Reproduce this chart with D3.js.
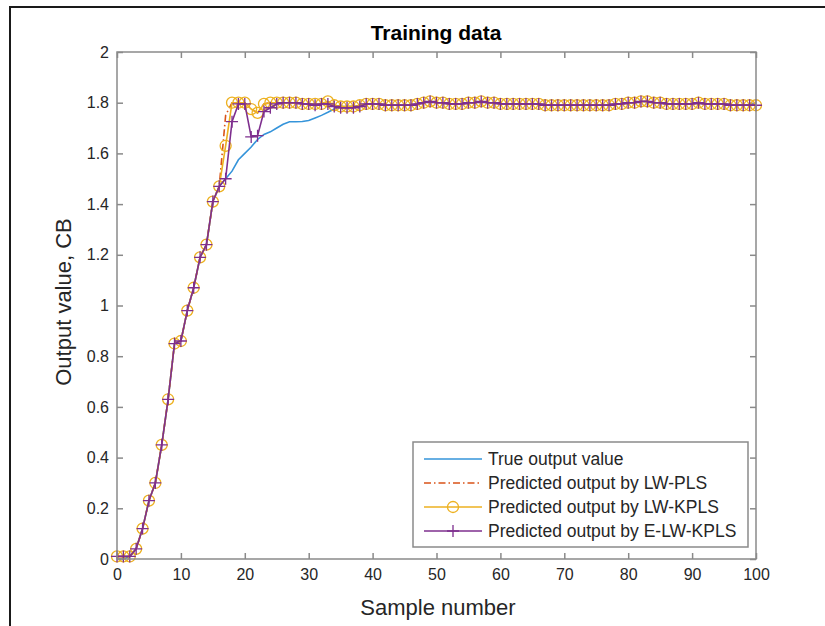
<!DOCTYPE html>
<html>
<head>
<meta charset="utf-8">
<script src="https://cdn.jsdelivr.net/npm/d3@7.9.0/dist/d3.min.js"></script>
<style>
  body { margin: 0; background: #fff; }
  svg { display: block; font-family: Arial, "Liberation Sans", Helvetica, sans-serif; }
</style>
</head>
<body>
<svg id="chart" width="825" height="626"></svg>
<script>
// sample numbers 0..100
const samples = d3.range(0, 101);

const trueOutput = [
  0.00, 0.00, 0.01, 0.04, 0.12, 0.23, 0.30, 0.45, 0.63, 0.85, 0.86, 0.98, 1.07, 1.19, 1.24, 1.41, 1.47,
  1.50, 1.53, 1.575, 1.60, 1.625, 1.655, 1.675, 1.685, 1.70,
  1.715, 1.725, 1.725, 1.726, 1.73, 1.74, 1.75, 1.762, 1.775, 1.785,
  1.785, 1.785, 1.785, 1.795, 1.795, 1.795, 1.79, 1.79, 1.79, 1.79,
  1.79, 1.795, 1.80, 1.805, 1.80, 1.80, 1.795, 1.795, 1.795, 1.80,
  1.80, 1.805, 1.80, 1.80, 1.795, 1.795, 1.795, 1.795, 1.795, 1.795,
  1.795, 1.79, 1.79, 1.79, 1.79, 1.79, 1.79, 1.79, 1.79, 1.79,
  1.79, 1.79, 1.795, 1.795, 1.80, 1.80, 1.805, 1.805, 1.80, 1.80,
  1.795, 1.795, 1.795, 1.795, 1.795, 1.80, 1.795, 1.795, 1.795, 1.795,
  1.79, 1.79, 1.79, 1.79, 1.79
];

const lwPls = [
  0.01, 0.01, 0.01, 0.04, 0.12, 0.23, 0.30, 0.45, 0.63, 0.85, 0.86, 0.98, 1.07, 1.19, 1.24, 1.41, 1.47,
  1.75, 1.80, 1.80, 1.80, 1.775, 1.76, 1.795, 1.80, 1.80,
  1.80, 1.80, 1.80, 1.795, 1.795, 1.795, 1.795, 1.805, 1.79, 1.785,
  1.785, 1.785, 1.79, 1.795, 1.795, 1.795, 1.79, 1.79, 1.79, 1.79,
  1.79, 1.795, 1.80, 1.805, 1.80, 1.80, 1.795, 1.795, 1.795, 1.80,
  1.80, 1.805, 1.80, 1.80, 1.795, 1.795, 1.795, 1.795, 1.795, 1.795,
  1.795, 1.79, 1.79, 1.79, 1.79, 1.79, 1.79, 1.79, 1.79, 1.79,
  1.79, 1.79, 1.795, 1.795, 1.80, 1.80, 1.805, 1.805, 1.80, 1.80,
  1.795, 1.795, 1.795, 1.795, 1.795, 1.80, 1.795, 1.795, 1.795, 1.795,
  1.79, 1.79, 1.79, 1.79, 1.79
];

const lwKpls = [
  0.01, 0.01, 0.01, 0.04, 0.12, 0.23, 0.30, 0.45, 0.63, 0.85, 0.86, 0.98, 1.07, 1.19, 1.24, 1.41, 1.47,
  1.63, 1.80, 1.80, 1.80, 1.775, 1.76, 1.795, 1.80, 1.80,
  1.80, 1.80, 1.80, 1.795, 1.795, 1.795, 1.795, 1.805, 1.79, 1.785,
  1.785, 1.785, 1.79, 1.795, 1.795, 1.795, 1.79, 1.79, 1.79, 1.79,
  1.79, 1.795, 1.80, 1.805, 1.80, 1.80, 1.795, 1.795, 1.795, 1.80,
  1.80, 1.805, 1.80, 1.80, 1.795, 1.795, 1.795, 1.795, 1.795, 1.795,
  1.795, 1.79, 1.79, 1.79, 1.79, 1.79, 1.79, 1.79, 1.79, 1.79,
  1.79, 1.79, 1.795, 1.795, 1.80, 1.80, 1.805, 1.805, 1.80, 1.80,
  1.795, 1.795, 1.795, 1.795, 1.795, 1.80, 1.795, 1.795, 1.795, 1.795,
  1.79, 1.79, 1.79, 1.79, 1.79
];

const eLwKpls = [
  0.01, 0.01, 0.01, 0.04, 0.12, 0.23, 0.30, 0.45, 0.63, 0.85, 0.86, 0.98, 1.07, 1.19, 1.24, 1.41, 1.47,
  1.50, 1.725, 1.795, 1.795, 1.665, 1.67, 1.765, 1.78, 1.795,
  1.80, 1.80, 1.80, 1.795, 1.795, 1.79, 1.795, 1.795, 1.785, 1.78,
  1.78, 1.78, 1.785, 1.795, 1.795, 1.795, 1.79, 1.79, 1.79, 1.79,
  1.79, 1.795, 1.80, 1.805, 1.80, 1.80, 1.795, 1.795, 1.795, 1.80,
  1.80, 1.805, 1.80, 1.80, 1.795, 1.795, 1.795, 1.795, 1.795, 1.795,
  1.795, 1.79, 1.79, 1.79, 1.79, 1.79, 1.79, 1.79, 1.79, 1.79,
  1.79, 1.79, 1.795, 1.795, 1.80, 1.80, 1.805, 1.805, 1.80, 1.80,
  1.795, 1.795, 1.795, 1.795, 1.795, 1.80, 1.795, 1.795, 1.795, 1.795,
  1.79, 1.79, 1.79, 1.79, 1.79
];

const xTicks = [0, 10, 20, 30, 40, 50, 60, 70, 80, 90, 100];
const yTicks = [0, 0.2, 0.4, 0.6, 0.8, 1, 1.2, 1.4, 1.6, 1.8, 2];

const seriesNames = ['True output value', 'Predicted output by LW-PLS',
  'Predicted output by LW-KPLS', 'Predicted output by E-LW-KPLS'];

const series = [
  { name: seriesNames[0], values: trueOutput, color: '#3594da', dash: null, marker: null },
  { name: seriesNames[1], values: lwPls, color: '#d95319', dash: '7,3,1.5,3', marker: null },
  { name: seriesNames[2], values: lwKpls, color: '#edb120', dash: null, marker: 'circle' },
  { name: seriesNames[3], values: eLwKpls, color: '#7e2f8e', dash: null, marker: 'plus' }
];

const svg = d3.select('#chart');
const plotLeft = 117, plotRight = 756, plotTop = 52, plotBottom = 559;

const x = d3.scaleLinear().domain([0, 100]).range([plotLeft, plotRight]);
const y = d3.scaleLinear().domain([0, 2]).range([plotBottom, plotTop]);

// outer figure frame
svg.append('path')
  .attr('d', 'M10,626V7H825')
  .attr('fill', 'none')
  .attr('stroke', '#1a1a1a')
  .attr('stroke-width', 2);

const axisColor = '#8a8a8a';
const labelColor = '#262626';

function styleAxis(g) {
  g.select('.domain').remove();
  g.selectAll('.tick line').attr('stroke', axisColor).attr('stroke-width', 1.5);
  g.selectAll('.tick text').attr('fill', labelColor).attr('font-size', 16);
}

// bottom / left with labels, top / right ticks only (inward)
svg.append('g')
  .attr('transform', `translate(0,${plotBottom})`)
  .call(d3.axisBottom(x).tickValues(xTicks).tickSize(-6).tickPadding(10).tickFormat(d3.format('d')))
  .call(styleAxis);
svg.append('g')
  .attr('transform', `translate(0,${plotTop})`)
  .call(d3.axisTop(x).tickValues(xTicks).tickSize(-6).tickFormat(''))
  .call(styleAxis);
svg.append('g')
  .attr('transform', `translate(${plotLeft},0)`)
  .call(d3.axisLeft(y).tickValues(yTicks).tickSize(-6).tickPadding(8).tickFormat(d => d3.format('~g')(d)))
  .call(styleAxis);
svg.append('g')
  .attr('transform', `translate(${plotRight},0)`)
  .call(d3.axisRight(y).tickValues(yTicks).tickSize(-6).tickFormat(''))
  .call(styleAxis);

const line = d3.line().x((d, i) => x(samples[i])).y(d => y(d));

const plot = svg.append('g');

series.forEach(s => {
  plot.append('path')
    .datum(s.values)
    .attr('d', line)
    .attr('fill', 'none')
    .attr('stroke', s.color)
    .attr('stroke-width', 1.6)
    .attr('stroke-dasharray', s.dash);

  if (s.marker === 'circle') {
    plot.append('g').selectAll('circle')
      .data(s.values)
      .join('circle')
      .attr('cx', (d, i) => x(samples[i]))
      .attr('cy', d => y(d))
      .attr('r', 5.5)
      .attr('fill', 'none')
      .attr('stroke', s.color)
      .attr('stroke-width', 1.3);
  } else if (s.marker === 'plus') {
    plot.append('g').selectAll('path')
      .data(s.values)
      .join('path')
      .attr('d', (d, i) => {
        const cx = x(samples[i]), cy = y(d);
        return `M${cx - 6},${cy}H${cx + 6}M${cx},${cy - 6}V${cy + 6}`;
      })
      .attr('fill', 'none')
      .attr('stroke', s.color)
      .attr('stroke-width', 1.3);
  }
});

// axes box
svg.append('rect')
  .attr('x', plotLeft).attr('y', plotTop)
  .attr('width', plotRight - plotLeft).attr('height', plotBottom - plotTop)
  .attr('fill', 'none')
  .attr('stroke', axisColor)
  .attr('stroke-width', 1.5);

// title and axis labels
svg.append('text')
  .attr('x', 436).attr('y', 40)
  .attr('text-anchor', 'middle')
  .attr('font-size', 21).attr('font-weight', 'bold')
  .attr('fill', '#000')
  .text('Training data');

svg.append('text')
  .attr('x', 438).attr('y', 615)
  .attr('text-anchor', 'middle')
  .attr('font-size', 22)
  .attr('fill', labelColor)
  .text('Sample number');

svg.append('text')
  .attr('transform', 'translate(71,302) rotate(-90)')
  .attr('text-anchor', 'middle')
  .attr('font-size', 22)
  .attr('fill', labelColor)
  .text('Output value, CB');

// legend
const legend = svg.append('g');
legend.append('rect')
  .attr('x', 413).attr('y', 442)
  .attr('width', 335).attr('height', 105)
  .attr('fill', '#fff')
  .attr('stroke', axisColor)
  .attr('stroke-width', 1.5);

series.forEach((s, i) => {
  const ly = 459 + i * 24;
  const row = legend.append('g');
  row.append('line')
    .attr('x1', 424).attr('x2', 482)
    .attr('y1', ly).attr('y2', ly)
    .attr('stroke', s.color)
    .attr('stroke-width', 1.6)
    .attr('stroke-dasharray', s.dash);
  if (s.marker === 'circle') {
    row.append('circle')
      .attr('cx', 453).attr('cy', ly).attr('r', 5.5)
      .attr('fill', 'none').attr('stroke', s.color).attr('stroke-width', 1.3);
  } else if (s.marker === 'plus') {
    row.append('path')
      .attr('d', `M447,${ly}H459M453,${ly - 6}V${ly + 6}`)
      .attr('stroke', s.color).attr('stroke-width', 1.3);
  }
  row.append('text')
    .attr('x', 488).attr('y', ly + 6)
    .attr('font-size', 17.5)
    .attr('fill', labelColor)
    .text(s.name);
});
</script>
</body>
</html>
